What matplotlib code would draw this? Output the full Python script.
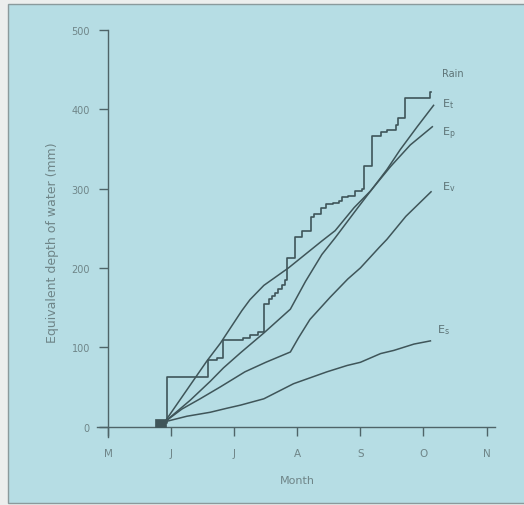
import matplotlib
matplotlib.use('Agg')
import matplotlib.pyplot as plt
from matplotlib.patches import Rectangle

plt.rcParams['font.family'] = ['DejaVu Sans']
plt.rcParams['mathtext.fontset'] = 'dejavusans'

# ---------------- data (months since 1 May; values in mm) ----------------
month_ticks = [0, 1, 2, 3, 4, 5, 6]
month_labels = ['M', 'J', 'J', 'A', 'S', 'O', 'N']
y_ticks = [0, 100, 200, 300, 400, 500]

rain_month = [0.92, 0.93, 1.59, 1.73, 1.83, 2.14, 2.25, 2.37, 2.47, 2.55,
              2.60, 2.65, 2.70, 2.76, 2.80, 2.83, 2.97, 3.08, 3.21, 3.27,
              3.37, 3.45, 3.56, 3.66, 3.71, 3.81, 3.92, 4.03, 4.05, 4.19,
              4.32, 4.42, 4.56, 4.59, 4.71, 5.10, 5.12]
rain_mm = [5, 62, 84, 86, 109, 112, 115, 119, 155, 161,
           165, 169, 173, 178, 185, 213, 239, 247, 264, 268,
           275, 280, 282, 285, 289, 291, 297, 299, 328, 366,
           372, 374, 380, 389, 414, 422, 422]

et_month = [0.90, 1.30, 1.62, 1.83, 2.10, 2.47, 2.89, 3.13, 3.39, 3.60,
            3.95, 4.21, 4.42, 4.63, 4.90, 5.16]
et_mm = [6, 33, 57, 74, 93, 118, 148, 183, 217, 238,
         275, 302, 324, 349, 378, 405]

ep_month = [0.90, 1.30, 1.57, 1.78, 2.12, 2.25, 2.47, 2.86, 3.39, 3.60,
            3.90, 4.16, 4.48, 4.79, 5.14]
ep_mm = [6, 52, 83, 105, 146, 160, 178, 200, 234, 247,
         276, 297, 328, 355, 378]

ev_month = [0.90, 1.17, 1.46, 1.78, 2.17, 2.50, 2.89, 3.02, 3.20, 3.52,
            3.80, 4.00, 4.30, 4.42, 4.72, 5.12]
ev_mm = [6, 22, 35, 50, 69, 81, 94, 112, 135, 163,
         186, 200, 226, 236, 265, 296]

es_month = [0.90, 1.25, 1.62, 1.88, 2.10, 2.47, 2.94, 3.47, 3.79, 4.00,
            4.32, 4.53, 4.85, 5.11]
es_mm = [6, 13, 18, 23, 27, 35, 54, 69, 77, 81,
         92, 96, 104, 108]

# series labels: (text, month, mm)
series_labels = [('Rain', 5.29, 442), (r'E$_{\rm t}$', 5.29, 404),
                 (r'E$_{\rm p}$', 5.29, 367), (r'E$_{\rm v}$', 5.29, 299),
                 (r'E$_{\rm s}$', 5.21, 119)]

# small filled block at the start of the curves (month, mm, width, height)
start_block = (0.75, 0, 0.17, 9)

# ---------------- style ----------------
PANEL = '#b6dde4'
LINE = '#3f5559'
AXIS = '#4f6468'
TEXT = '#6f8588'

fig = plt.figure(figsize=(5.24, 5.06), dpi=100, facecolor='#eceeed')
fig.patches.append(Rectangle((0.01527, 0.00395), 1.0, 0.9862,
                             transform=fig.transFigure, facecolor=PANEL,
                             edgecolor='#8a9a9c', lw=1.0, zorder=-10))

ax = fig.add_axes([0.1821, 0.1237, 0.7826, 0.8464])
ax.set_zorder(5)
ax.set_facecolor('none')
ax.set_xlim(-0.2, 6.3)
ax.set_ylim(-20, 520)

for s in ['top', 'right']:
    ax.spines[s].set_visible(False)
ax.spines['left'].set_position(('data', 0))
ax.spines['bottom'].set_position(('data', 0))
ax.spines['left'].set_bounds(-13, 500)
ax.spines['bottom'].set_bounds(-0.17, 6.14)
for s in ['left', 'bottom']:
    ax.spines[s].set_color(AXIS)
    ax.spines[s].set_linewidth(1.0)

ax.set_xticks(month_ticks)
ax.set_xticklabels(month_labels)
ax.set_yticks(y_ticks)
ax.tick_params(axis='x', direction='out', length=6.5, width=1.0, pad=8.6,
               color=AXIS, labelcolor=TEXT, labelsize=7.5)
ax.tick_params(axis='y', direction='out', length=6.5, width=1.0, pad=6.5,
               color=AXIS, labelcolor=TEXT, labelsize=7)

ax.plot(rain_month, rain_mm, drawstyle='steps-post', color=LINE, lw=1.2,
        clip_on=False)
for xs, ys in [(et_month, et_mm), (ep_month, ep_mm), (ev_month, ev_mm),
               (es_month, es_mm)]:
    ax.plot(xs, ys, color=LINE, lw=1.1, clip_on=False)

bx, by, bw, bh = start_block
ax.add_patch(Rectangle((bx, by), bw, bh, facecolor=LINE, edgecolor=LINE,
                       lw=0.5, zorder=3))

for txt, mx, my in series_labels:
    size = 7 if txt == 'Rain' else 8
    ax.text(mx, my, txt, ha='left', va='baseline', fontsize=size,
            color='#5d7376')

fig.text(297.5 / 524, 1 - 481 / 506, 'Month', ha='center', va='center',
         fontsize=8, color=TEXT, zorder=6)
fig.text(53 / 524, 1 - 243 / 506, 'Equivalent depth of water (mm)',
         ha='center', va='center', rotation=90, fontsize=9, color=TEXT,
         zorder=6)

fig.savefig('out.png', dpi=100, facecolor=fig.get_facecolor())
